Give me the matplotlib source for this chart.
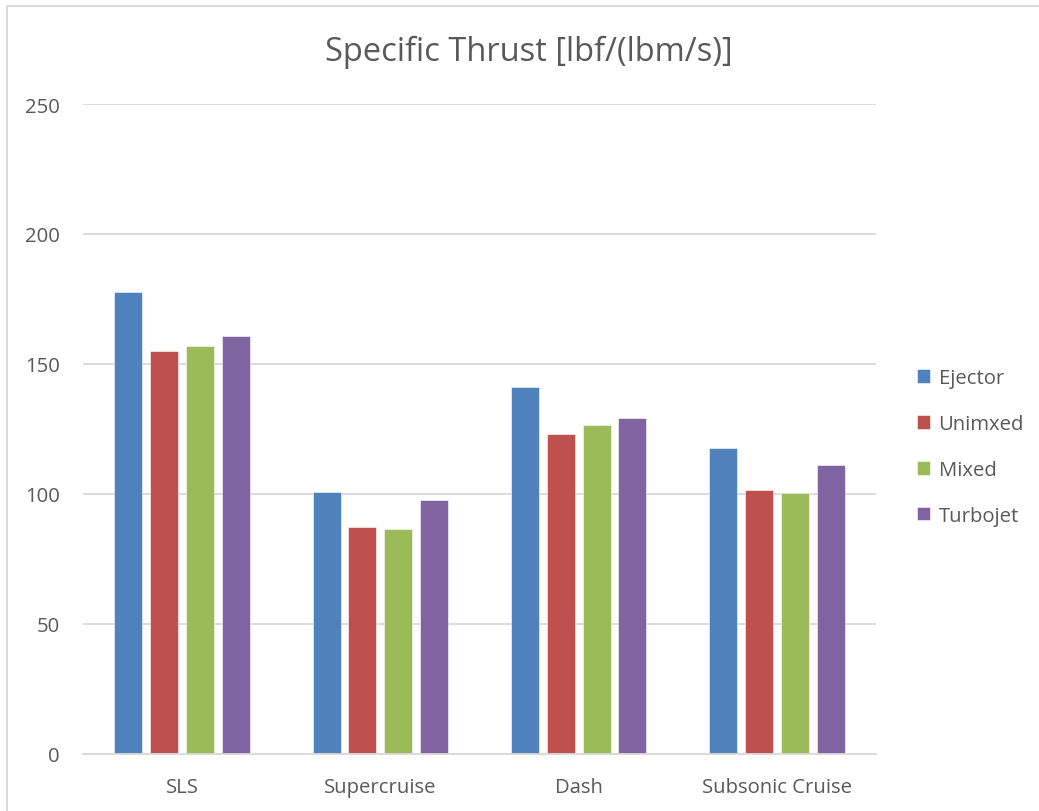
import matplotlib
matplotlib.use("Agg")
import matplotlib.pyplot as plt
from matplotlib.patches import Rectangle
import numpy as np

plt.rcParams['font.family'] = ['Open Sans', 'DejaVu Sans']

categories = ["SLS", "Supercruise", "Dash", "Subsonic Cruise"]
series_names = ["Ejector", "Unimxed", "Mixed", "Turbojet"]
ejector = [177.8, 100.9, 141.0, 117.8]
unimxed = [155.0, 87.4, 123.1, 101.4]
mixed = [157.0, 86.7, 126.4, 100.4]
turbojet = [160.6, 97.8, 129.4, 111.2]
yticks = [0, 50, 100, 150, 200, 250]

colors = ["#4F81BD", "#C0504D", "#9BBB59", "#8064A2"]
text_color = "#595959"
grid_color = "#D9D9D9"

W, H = 1039, 812
fig = plt.figure(figsize=(W / 100, H / 100), dpi=100)
ax = fig.add_axes([83 / W, (H - 755) / H, (876 - 83) / W, (755 - 105) / H])

x = np.arange(len(categories))
width = 0.141
step = 0.181
all_series = [ejector, unimxed, mixed, turbojet]
handles = []
for i, (vals, name, c) in enumerate(zip(all_series, series_names, colors)):
    offs = (i - 1.5) * step
    b = ax.bar(x + offs, vals, width, color=c, label=name, zorder=3,
               edgecolor="white", linewidth=0.4)
    handles.append(b)

ax.set_xlim(-0.5, len(categories) - 0.5)
ax.set_ylim(0, 250)
ax.set_yticks(yticks)
ax.set_yticklabels([str(t) for t in yticks])
ax.set_xticks(x)
ax.set_xticklabels(categories)
ax.tick_params(axis='both', length=0, colors=text_color, labelsize=14.6)
ax.tick_params(axis='y', pad=16.5)
ax.tick_params(axis='x', pad=16.5)
ax.yaxis.grid(True, color=grid_color, linewidth=1.3, zorder=0)
ax.set_axisbelow(True)
for s in ["top", "right", "left"]:
    ax.spines[s].set_visible(False)
ax.spines["bottom"].set_color(grid_color)
ax.spines["bottom"].set_linewidth(1.3)
ax.spines["bottom"].set_zorder(4)

fig.text(0.5 * (322 + 735) / W, 1 - 52 / H, "Specific Thrust [lbf/(lbm/s)]",
         ha="center", va="center", fontsize=23.5, color=text_color)

leg = fig.legend(handles=handles, labels=series_names, loc="center left",
                 bbox_to_anchor=(899 / W, 1 - 448 / H), frameon=False,
                 fontsize=14.6, labelcolor=text_color, handlelength=0.65,
                 handleheight=0.65, handletextpad=0.4, labelspacing=1.27)

fig.patches.append(Rectangle((6.5 / W, -0.1), 1.2, 1 - 6.5 / H + 0.1,
                             transform=fig.transFigure, fill=False,
                             edgecolor=grid_color, linewidth=1.3))

fig.savefig("out.png", dpi=100, facecolor="white")
